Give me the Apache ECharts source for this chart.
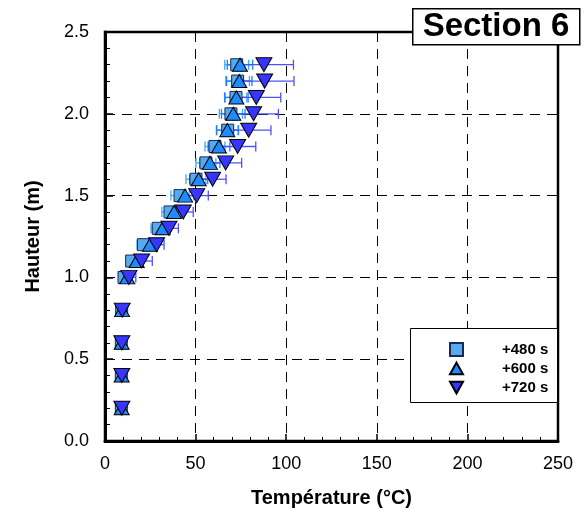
<!DOCTYPE html>
<html><head><meta charset="utf-8">
<script src="https://cdn.jsdelivr.net/npm/echarts@6/dist/echarts.min.js"></script>
<style>html,body{margin:0;padding:0;background:#fff}#c{width:588px;height:520px}</style>
</head><body><div id="c"></div>
<script>
const heights = [0.2,0.4,0.6,0.8,1.0,1.1,1.2,1.3,1.4,1.5,1.6,1.7,1.8,1.9,2.0,2.1,2.2,2.3];
const t480 = [9.0,9.0,9.0,9.2,10.5,14.7,21.2,29.4,35.9,41.4,50.2,55.7,60.7,67.7,69.5,72.3,73.2,72.7];
const t600 = [9.2,9.2,9.2,9.4,12.3,17.5,24.8,31.8,38.1,44.2,51.7,57.9,62.9,67.5,70.8,72.5,74.1,74.5];
const t720 = [9.3,9.3,9.3,9.5,13.2,20.2,28.5,35.3,43.2,50.6,59.4,66.6,73.2,79.3,82.0,83.5,88.1,87.7];
const e480 = [1,1,1,1,2.5,3,3.5,4,4.5,5,5.5,5.5,5.5,6,6.4,6,6.5,6.6];
const e600 = [1,1,1,1,2.5,3,3.5,4,4.5,5,5,5.5,6,6,6.5,6.5,7,7];
const e720 = [1,1,1,1,3.8,5.9,4.1,5.2,5.5,6.4,7.4,8.8,10,12.3,13.7,13.5,16.2,16.3];
const seriesNames = ['+480 s','+600 s','+720 s'];
const xTicks = [0,50,100,150,200,250];
const yTicks = [0.0,0.5,1.0,1.5,2.0,2.5];

const FONT = '"Liberation Sans", Arial, Helvetica, sans-serif';
const chart = echarts.init(document.getElementById('c'));

function pts(t){ return t.map((v,i)=>[v, heights[i]]); }
function errs(t,e){ return t.map((v,i)=>[v, heights[i], e[i]]); }
function errSeries(name, data, color){
  return {
    type:'custom', name:name, data:data, encode:{x:0,y:1}, z:2, silent:true,
    renderItem:function(params, api){
      const x=api.value(0), y=api.value(1), e=api.value(2);
      const l=api.coord([x-e,y]), r=api.coord([x+e,y]);
      const h=5;
      const st={stroke:color, lineWidth:1.3};
      return {type:'group', children:[
        {type:'line', shape:{x1:l[0],y1:l[1],x2:r[0],y2:r[1]}, style:st},
        {type:'line', shape:{x1:l[0],y1:l[1]-h,x2:l[0],y2:l[1]+h}, style:st},
        {type:'line', shape:{x1:r[0],y1:r[1]-h,x2:r[0],y2:r[1]+h}, style:st}
      ]};
    }
  };
}
const upTri = 'path://M5,0 L10,9 L0,9 Z';
const downTri = 'path://M0,0 L10,0 L5,9 Z';

chart.setOption({
  animation:false,
  backgroundColor:'#fff',
  textStyle:{fontFamily:FONT},
  grid:{left:105, right:30, top:32, bottom:79, show:true, borderColor:'#000', borderWidth:2.5, backgroundColor:'transparent'},
  xAxis:{
    type:'value', min:0, max:250, interval:50,
    name:'Température (°C)', nameLocation:'middle', nameGap:47,
    nameTextStyle:{fontFamily:FONT, fontSize:20, fontWeight:'bold', color:'#000'},
    axisLine:{show:true, lineStyle:{color:'#000', width:3}},
    axisTick:{show:true, inside:true, length:7, lineStyle:{color:'#000', width:1.5}},
    minorTick:{show:true, splitNumber:5, length:4, lineStyle:{color:'#000', width:1}},
    axisLabel:{fontFamily:FONT, fontSize:18, color:'#000', margin:14,
      formatter:v=>xTicks.includes(v)?String(v):''},
    splitLine:{show:true, lineStyle:{color:'#000', type:[10,7], width:1}}
  },
  yAxis:{
    type:'value', min:0, max:2.5, interval:0.5,
    name:'Hauteur (m)', nameLocation:'middle', nameGap:62,
    nameTextStyle:{fontFamily:FONT, fontSize:20, fontWeight:'bold', color:'#000'},
    axisLine:{show:true, lineStyle:{color:'#000', width:3}},
    axisTick:{show:true, inside:true, length:8, lineStyle:{color:'#000', width:1.5}},
    minorTick:{show:true, splitNumber:5, length:5, lineStyle:{color:'#000', width:1}},
    axisLabel:{fontFamily:FONT, fontSize:18, color:'#000', margin:16,
      formatter:v=>v.toFixed(1)},
    splitLine:{show:true, lineStyle:{color:'#000', type:[10,7], width:1}}
  },
  legend:{
    data:seriesNames, orient:'vertical', left:444, top:337, itemGap:4, z:20,
    itemWidth:13, itemHeight:13,
    textStyle:{fontFamily:FONT, fontSize:15, fontWeight:'bold', color:'#000', padding:[0,0,0,34]}
  },
  graphic:[
    {type:'rect', left:410, top:328, shape:{width:147, height:74}, style:{fill:'#fff', stroke:'#000', lineWidth:1}, z:5},
    {type:'rect', left:412, top:8, shape:{width:167, height:36}, style:{fill:'#fff', stroke:'#000', lineWidth:1.5}, z:5},
    {type:'text', x:496, y:27, style:{text:'Section 6', font:'bold 33px '+FONT, fill:'#000', textAlign:'center', textVerticalAlign:'middle'}, z:6}
  ],
  series:[
    errSeries('err480', errs(t480,e480), '#3aa8ff'),
    {type:'scatter', name:seriesNames[0], data:pts(t480), symbol:'rect', symbolSize:[12,12], z:3,
      itemStyle:{color:'#55aaf0', borderColor:'#1a2a55', borderWidth:1, opacity:1}},
    errSeries('err600', errs(t600,e600), '#1f80ff'),
    {type:'scatter', name:seriesNames[1], data:pts(t600), symbol:upTri, symbolSize:[15,13], z:4,
      itemStyle:{color:'#1e8cff', borderColor:'#000', borderWidth:1, opacity:1}},
    errSeries('err720', errs(t720,e720), '#5050ff'),
    {type:'scatter', name:seriesNames[2], data:pts(t720), symbol:downTri, symbolSize:[16,14], z:4,
      itemStyle:{color:'#3636ff', borderColor:'#000', borderWidth:1, opacity:1}}
  ]
});
</script></body></html>
